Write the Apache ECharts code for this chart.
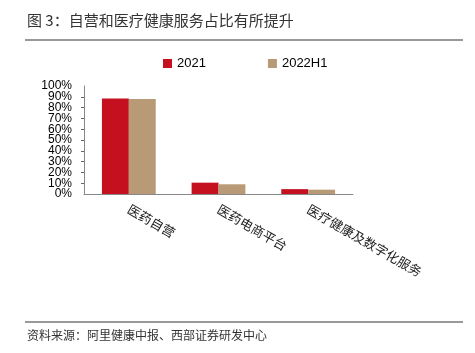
<!DOCTYPE html>
<html>
<head>
<meta charset="utf-8">
<script src="https://cdn.jsdelivr.net/npm/echarts@6/dist/echarts.min.js"></script>
<style>
html,body{margin:0;padding:0;background:#fff;}
#main{width:475px;height:353px;}
</style>
</head>
<body>
<div id="main"></div>
<script>
// 数据
var categories = ['医药自营', '医药电商平台', '医疗健康及数字化服务'];
var share2021 = [88.5, 10.5, 4.5];
var share2022H1 = [88, 9, 4];
var yTicks = [0, 10, 20, 30, 40, 50, 60, 70, 80, 90, 100];

var cjk = '"Noto Sans CJK SC", sans-serif';
var latin = '"Liberation Sans", Arial, sans-serif';

// 标签太密，ECharts会隐藏重叠标签，这里拆成两根轴分别画偶数和奇数刻度
var yLabelBase = {
    margin: 12,
    fontFamily: latin,
    fontSize: 12,
    color: '#000',
    hideOverlap: false
};

var chart = echarts.init(document.getElementById('main'));
var option = {
    animation: false,
    backgroundColor: '#fff',
    legend: {
        left: 158,
        top: 52,
        itemWidth: 9,
        itemHeight: 9,
        itemGap: 62,
        icon: 'rect',
        textStyle: { fontFamily: latin, fontSize: 13, color: '#000' },
        data: ['2021', '2022H1']
    },
    grid: { left: 84, right: 122, top: 86, bottom: 159 },
    xAxis: {
        type: 'category',
        data: categories,
        axisLine: { lineStyle: { color: '#888', width: 1 } },
        axisTick: { inside: true, length: 3, lineStyle: { color: '#666' } },
        axisLabel: {
            rotate: -30,
            margin: 14,
            interval: 0,
            fontFamily: cjk,
            fontSize: 13,
            color: '#222'
        }
    },
    yAxis: [
        {
            type: 'value',
            min: yTicks[0],
            max: yTicks[yTicks.length - 1],
            interval: 20,
            splitLine: { show: false },
            axisLine: { show: true, lineStyle: { color: '#888', width: 1 } },
            axisTick: { show: false },
            axisLabel: Object.assign({ formatter: '{value}%', showMinLabel: true, showMaxLabel: true }, yLabelBase)
        },
        {
            type: 'value',
            position: 'left',
            min: yTicks[0],
            max: yTicks[yTicks.length - 1],
            interval: 10,
            splitLine: { show: false },
            axisLine: { show: false },
            axisTick: { show: true, length: 3, lineStyle: { color: '#666' } },
            axisLabel: Object.assign({
                showMinLabel: false,
                showMaxLabel: false,
                formatter: function (v) { return v % 20 === 10 ? v + '%' : ''; }
            }, yLabelBase)
        }
    ],
    series: [
        {
            name: '2021',
            type: 'bar',
            data: share2021,
            barGap: '0%',
            barCategoryGap: '40%',
            itemStyle: { color: '#c5101f' }
        },
        {
            name: '2022H1',
            type: 'bar',
            data: share2022H1,
            itemStyle: { color: '#b99a76' }
        }
    ],
    graphic: [
        {
            type: 'text', left: 27, top: 13,
            style: { text: '图 3：自营和医疗健康服务占比有所提升', fontFamily: cjk, fontSize: 15, fill: '#333' }
        },
        {
            type: 'line',
            shape: { x1: 25, y1: 40, x2: 463, y2: 40 },
            style: { stroke: '#777', lineWidth: 1.5 }
        },
        {
            type: 'line',
            shape: { x1: 25, y1: 322, x2: 463, y2: 322 },
            style: { stroke: '#777', lineWidth: 1.5 }
        },
        {
            type: 'text', left: 27, top: 329,
            style: { text: '资料来源：阿里健康中报、西部证券研发中心', fontFamily: cjk, fontSize: 12, fill: '#333' }
        }
    ]
};
chart.setOption(option);
window.addEventListener('resize', chart.resize);
</script>
</body>
</html>
